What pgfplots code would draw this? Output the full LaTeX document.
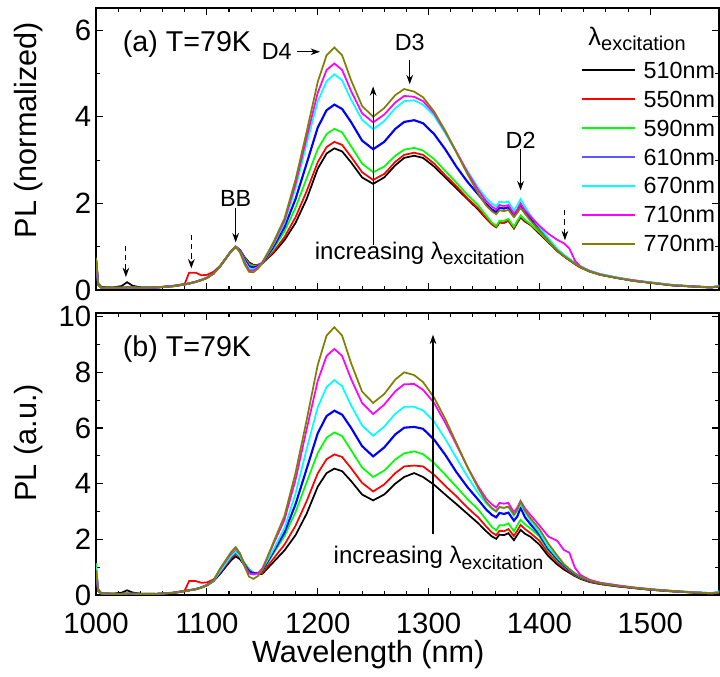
\documentclass[border=0pt]{standalone}
\usepackage{fontspec}
\setmainfont{Liberation Sans}
\usepackage{pgfplots}
\usepackage{pgfplotstable}
\pgfplotsset{compat=1.18}
\usetikzlibrary{arrows.meta}
\definecolor{olv}{RGB}{128,128,0}
\definecolor{grn}{RGB}{0,255,0}
\definecolor{cyn}{RGB}{0,255,255}
\definecolor{mag}{RGB}{255,0,255}
\definecolor{blu}{RGB}{0,0,255}
\definecolor{rd}{RGB}{255,0,0}

\pgfplotstableread{
x k r g b c m o
1000 0.72 0.70 0.74 0.70 0.72 0.70 0.74
1002 0.15 0.12 0.12 0.12 0.12 0.12 0.12
1005 0.07 0.05 0.05 0.05 0.05 0.05 0.05
1015 0.06 0.05 0.05 0.05 0.05 0.05 0.05
1023 0.09 0.05 0.05 0.05 0.05 0.05 0.05
1028 0.18 0.06 0.06 0.06 0.06 0.06 0.06
1033 0.10 0.06 0.06 0.06 0.06 0.06 0.06
1040 0.06 0.05 0.05 0.05 0.05 0.05 0.05
1055 0.06 0.06 0.06 0.06 0.06 0.06 0.06
1070 0.09 0.10 0.09 0.09 0.09 0.09 0.09
1080 0.13 0.14 0.13 0.13 0.13 0.13 0.13
1084 0.15 0.40 0.15 0.15 0.15 0.15 0.15
1090 0.19 0.40 0.19 0.19 0.19 0.19 0.19
1095 0.23 0.34 0.23 0.23 0.23 0.23 0.23
1100 0.28 0.35 0.28 0.28 0.28 0.28 0.28
1106 0.38 0.42 0.38 0.38 0.38 0.38 0.38
1112 0.55 0.56 0.55 0.55 0.55 0.55 0.55
1118 0.76 0.76 0.76 0.76 0.76 0.76 0.76
1122 0.90 0.90 0.90 0.90 0.90 0.90 0.90
1126 1.00 1.00 1.00 1.00 1.00 1.00 1.00
1130 0.92 0.92 0.91 0.90 0.89 0.88 0.86
1134 0.76 0.75 0.73 0.70 0.67 0.64 0.60
1138 0.64 0.62 0.59 0.55 0.50 0.46 0.42
1142 0.58 0.57 0.55 0.52 0.48 0.45 0.41
1146 0.58 0.58 0.56 0.55 0.53 0.52 0.49
1150 0.62 0.62 0.62 0.62 0.63 0.64 0.62
1160 0.85 0.88 0.95 1.00 1.05 1.08 1.10
1170 1.15 1.22 1.35 1.45 1.55 1.60 1.65
1180 1.55 1.68 1.90 2.10 2.35 2.45 2.55
1190 2.10 2.28 2.58 2.92 3.38 3.52 3.65
1200 2.80 2.95 3.25 3.75 4.35 4.55 4.80
1208 3.15 3.30 3.60 4.15 4.82 5.08 5.42
1215 3.27 3.42 3.72 4.28 4.98 5.23 5.60
1222 3.20 3.35 3.64 4.18 4.84 5.08 5.42
1230 2.95 3.08 3.32 3.88 4.40 4.60 4.85
1240 2.60 2.72 2.92 3.45 3.93 4.08 4.25
1250 2.45 2.54 2.72 3.25 3.71 3.87 4.00
1260 2.60 2.68 2.85 3.42 3.90 4.05 4.20
1270 2.88 2.96 3.10 3.72 4.20 4.33 4.50
1278 3.05 3.12 3.24 3.88 4.36 4.48 4.64
1287 3.10 3.17 3.28 3.92 4.38 4.46 4.58
1295 3.05 3.12 3.22 3.85 4.28 4.36 4.45
1305 2.85 2.92 3.02 3.60 4.02 4.08 4.12
1315 2.60 2.65 2.75 3.25 3.62 3.66 3.68
1325 2.35 2.40 2.48 2.85 3.18 3.20 3.18
1335 2.10 2.12 2.20 2.50 2.75 2.72 2.68
1345 1.85 1.88 1.95 2.20 2.35 2.30 2.22
1352 1.65 1.66 1.72 1.98 2.12 2.05 1.95
1357 1.52 1.52 1.56 1.86 2.00 1.93 1.82
1361 1.45 1.45 1.48 1.80 1.93 1.86 1.75
1364 1.56 1.56 1.60 1.90 2.04 1.96 1.84
1368 1.55 1.55 1.60 1.88 2.02 1.94 1.82
1372 1.60 1.60 1.64 1.91 2.04 1.96 1.85
1377 1.42 1.43 1.46 1.72 1.84 1.76 1.68
1380 1.55 1.56 1.60 1.82 1.95 1.86 1.78
1383 1.68 1.70 1.72 1.96 2.10 2.00 1.90
1387 1.58 1.60 1.62 1.80 1.92 1.84 1.76
1392 1.50 1.50 1.52 1.64 1.72 1.70 1.60
1400 1.30 1.32 1.34 1.40 1.45 1.48 1.38
1408 1.10 1.11 1.12 1.16 1.20 1.30 1.14
1416 0.90 0.90 0.91 0.93 0.95 1.16 0.92
1422 0.78 0.78 0.79 0.80 0.82 1.08 0.79
1427 0.69 0.69 0.70 0.71 0.72 0.96 0.70
1432 0.60 0.60 0.61 0.62 0.63 0.68 0.61
1437 0.52 0.52 0.53 0.54 0.55 0.54 0.53
1445 0.43 0.43 0.43 0.44 0.45 0.44 0.43
1455 0.35 0.35 0.35 0.36 0.37 0.36 0.35
1470 0.28 0.28 0.28 0.28 0.29 0.28 0.28
1485 0.21 0.21 0.21 0.22 0.22 0.22 0.21
1500 0.17 0.17 0.17 0.17 0.18 0.17 0.17
1520 0.11 0.11 0.11 0.11 0.12 0.11 0.11
1540 0.08 0.08 0.08 0.08 0.08 0.08 0.08
1555 0.06 0.06 0.06 0.06 0.06 0.06 0.06
1563 0.10 0.09 0.09 0.09 0.11 0.09 0.09
}\toptab

\pgfplotstableread{
x k r g b c m o
1000 0.54 0.80 1.14 0.90 1.00 0.80 0.90
1002 0.20 0.15 0.15 0.15 0.15 0.15 0.15
1005 0.06 0.05 0.05 0.05 0.05 0.05 0.05
1015 0.05 0.04 0.04 0.04 0.04 0.04 0.04
1023 0.08 0.04 0.04 0.04 0.04 0.04 0.04
1028 0.17 0.05 0.05 0.05 0.05 0.05 0.05
1033 0.09 0.05 0.05 0.05 0.05 0.05 0.05
1040 0.05 0.04 0.04 0.04 0.04 0.04 0.04
1055 0.04 0.04 0.04 0.04 0.04 0.04 0.04
1070 0.08 0.08 0.08 0.08 0.08 0.08 0.08
1080 0.14 0.16 0.14 0.14 0.14 0.14 0.14
1084 0.17 0.50 0.17 0.17 0.17 0.17 0.17
1090 0.21 0.50 0.21 0.21 0.21 0.21 0.21
1095 0.27 0.44 0.27 0.27 0.27 0.27 0.27
1100 0.35 0.45 0.35 0.35 0.35 0.35 0.35
1106 0.50 0.56 0.51 0.51 0.51 0.53 0.53
1112 0.76 0.81 0.86 0.85 0.85 0.93 0.95
1118 1.06 1.12 1.19 1.18 1.18 1.28 1.31
1122 1.25 1.33 1.41 1.40 1.40 1.52 1.55
1126 1.39 1.48 1.57 1.55 1.55 1.69 1.72
1130 1.28 1.36 1.43 1.40 1.38 1.49 1.48
1134 1.06 1.11 1.15 1.09 1.04 1.08 1.03
1138 0.89 0.92 0.93 0.85 0.78 0.78 0.66
1142 0.78 0.80 0.80 0.78 0.74 0.74 0.58
1146 0.75 0.76 0.78 0.78 0.76 0.78 0.68
1150 0.76 0.80 0.86 0.88 0.92 0.95 0.90
1160 1.18 1.30 1.49 1.55 1.63 1.83 1.89
1170 1.60 1.81 2.12 2.25 2.40 2.70 2.84
1180 2.15 2.49 2.98 3.26 3.64 4.14 4.39
1190 2.92 3.37 4.05 4.53 5.24 5.95 6.28
1200 3.89 4.37 5.10 5.81 6.74 7.69 8.26
1208 4.38 4.88 5.65 6.43 7.47 8.59 9.32
1215 4.54 5.05 5.84 6.62 7.72 8.84 9.62
1222 4.45 4.96 5.71 6.48 7.50 8.59 9.32
1230 4.10 4.56 5.21 6.01 6.82 7.77 8.34
1240 3.61 4.03 4.58 5.35 6.09 6.90 7.31
1250 3.40 3.72 4.24 4.98 5.72 6.50 6.90
1260 3.61 3.97 4.47 5.30 6.05 6.84 7.22
1270 4.00 4.38 4.87 5.77 6.51 7.32 7.74
1278 4.24 4.62 5.09 6.01 6.76 7.57 8.00
1287 4.38 4.65 5.16 6.04 6.76 7.58 7.90
1295 4.24 4.62 5.06 5.97 6.63 7.37 7.65
1305 3.96 4.32 4.74 5.58 6.23 6.90 7.09
1315 3.61 3.92 4.32 5.04 5.61 6.19 6.33
1325 3.27 3.55 3.89 4.42 4.93 5.41 5.47
1335 2.92 3.14 3.45 3.88 4.26 4.60 4.61
1345 2.57 2.78 3.06 3.41 3.64 3.89 3.82
1352 2.29 2.46 2.70 3.07 3.29 3.46 3.35
1357 2.11 2.25 2.45 2.88 3.10 3.26 3.13
1361 2.02 2.15 2.32 2.79 2.99 3.14 3.01
1364 2.17 2.31 2.51 2.95 3.16 3.31 3.16
1368 2.15 2.29 2.51 2.91 3.13 3.28 3.13
1372 2.22 2.37 2.57 2.96 3.16 3.31 3.18
1377 1.97 2.12 2.29 2.67 2.85 2.97 2.89
1380 2.15 2.31 2.51 2.82 3.02 3.14 3.06
1383 2.34 2.52 2.70 3.14 3.26 3.38 3.36
1387 2.20 2.37 2.54 2.79 2.98 3.11 3.03
1392 2.09 2.22 2.39 2.54 2.67 2.87 2.75
1400 1.81 1.95 2.10 2.17 2.25 2.50 2.37
1408 1.40 1.50 1.60 1.66 1.72 2.10 1.85
1416 1.10 1.18 1.25 1.30 1.35 1.95 1.42
1422 0.92 0.98 1.03 1.06 1.10 1.62 1.12
1427 0.80 0.84 0.88 0.90 0.93 1.52 0.94
1432 0.68 0.70 0.73 0.75 0.78 0.98 0.78
1437 0.58 0.60 0.62 0.64 0.66 0.72 0.66
1445 0.47 0.48 0.50 0.51 0.53 0.55 0.52
1455 0.39 0.40 0.41 0.42 0.44 0.44 0.42
1470 0.31 0.32 0.33 0.33 0.35 0.35 0.33
1485 0.25 0.25 0.26 0.26 0.27 0.27 0.26
1500 0.19 0.19 0.20 0.20 0.21 0.21 0.20
1520 0.13 0.13 0.14 0.14 0.14 0.14 0.14
1540 0.09 0.09 0.09 0.09 0.10 0.09 0.09
1555 0.06 0.06 0.06 0.06 0.07 0.06 0.06
1563 0.10 0.09 0.09 0.09 0.14 0.09 0.10
}\bottab

\pgfplotsset{
  myax/.style={
    scale only axis, width=467.25pt, height=211.5pt,
    xmin=1000, xmax=1562,
    xtick={1000,1100,1200,1300,1400,1500}, minor x tick num=4,
    minor y tick num=1,
    tick align=inside,
    major tick length=5pt, minor tick length=3pt,
    tick style={black, line width=0.8pt},
    axis line style={line width=0.9pt},
    tick label style={font=\fontsize{22}{22}\selectfont},
    xticklabel style={yshift=-10pt},
    label style={font=\fontsize{23}{23}\selectfont},
    /pgf/number format/assume math mode=true,
    /pgf/number format/1000 sep={},
    clip mode=individual,
    no markers,
    every axis plot/.append style={line width=1.3pt},
  },
}
\tikzset{
  ann/.style={font=\fontsize{17.5}{17.5}\selectfont},
  arr/.style={-{Stealth[length=7pt,width=5pt]}, line width=0.8pt},
  darr/.style={-{Stealth[length=7pt,width=5pt]}, line width=0.8pt, dash pattern=on 4pt off 3pt},
}

\begin{document}
\begin{tikzpicture}
\useasboundingbox (0,0) rectangle (540pt,-507pt);

\begin{axis}[myax, at={(72pt,-6pt)}, anchor=north west,
  ymin=0, ymax=6.51, ytick={0,2,4,6},
  xticklabels={},
  ylabel={PL (normalized)},
  ylabel style={at={(axis description cs:-0.1075,0.567)}, anchor=center},
  legend style={at={(axis description cs:0.994,0.81)}, anchor=north east,
    draw=none, fill=none, font=\fontsize{17.5}{17.5}\selectfont,
    row sep=9.5pt, inner sep=0pt, cells={anchor=west},
    nodes={inner sep=0pt, text depth=0pt},
    /tikz/every odd column/.append style={column sep=6pt}},
  legend cell align=left,
  legend image code/.code={\draw[#1, line width=1.2pt] (0pt,0pt) -- (40pt,0pt);},
]
\addplot[black] table[x=x,y=k]{\toptab}; \addlegendentry{510nm}
\addplot[rd] table[x=x,y=r]{\toptab}; \addlegendentry{550nm}
\addplot[grn] table[x=x,y=g]{\toptab}; \addlegendentry{590nm}
\addplot[blu, line width=1.6pt, legend image post style={line width=1.9pt, blu!65!white}] table[x=x,y=b]{\toptab}; \addlegendentry{610nm}
\addplot[cyn] table[x=x,y=c]{\toptab}; \addlegendentry{670nm}
\addplot[mag] table[x=x,y=m]{\toptab}; \addlegendentry{710nm}
\addplot[olv] table[x=x,y=o]{\toptab}; \addlegendentry{770nm}

\node[anchor=west, font=\fontsize{21.5}{21.5}\selectfont] at (axis cs:1020,5.68) {(a) T=79K};
\node[anchor=west] at (axis cs:1440,5.8) {\fontsize{19}{19}\selectfont λ\raisebox{-4pt}{\fontsize{15}{15}\selectfont excitation}};
\node[ann] at (axis cs:1163,5.5) {D4};
\draw[arr] (axis cs:1181,5.5) -- (axis cs:1202,5.5);
\node[ann] at (axis cs:1283,5.72) {D3};
\draw[arr] (axis cs:1283,5.3) -- (axis cs:1283,4.75);
\node[ann] at (axis cs:1126,2.12) {BB};
\draw[arr] (axis cs:1126,1.9) -- (axis cs:1126,1.1);
\node[ann] at (axis cs:1383,3.45) {D2};
\draw[arr] (axis cs:1383,3.25) -- (axis cs:1383,2.3);
\draw[darr] (axis cs:1027,1.02) -- (axis cs:1027,0.3);
\draw[darr] (axis cs:1086,1.28) -- (axis cs:1086,0.5);
\draw[darr] (axis cs:1423,1.85) -- (axis cs:1423,1.15);
\draw[arr] (axis cs:1250,1.04) -- (axis cs:1250,4.7);
\node at (axis cs:1292,0.85) {\fontsize{18}{18}\selectfont increasing λ\raisebox{-4pt}{\fontsize{14.5}{14.5}\selectfont excitation}};
\end{axis}

\begin{axis}[myax, at={(72pt,-234.75pt)}, anchor=north west,
  ymin=0, ymax=10.13, ytick={0,2,4,6,8,10},
  xlabel={Wavelength (nm)},
  xlabel style={at={(axis description cs:0.437,-0.2128)}, anchor=center},
  ylabel={PL (a.u.)},
  ylabel style={at={(axis description cs:-0.1075,0.54)}, anchor=center},
]
\addplot[black] table[x=x,y=k]{\bottab};
\addplot[rd] table[x=x,y=r]{\bottab};
\addplot[grn] table[x=x,y=g]{\bottab};
\addplot[blu, line width=1.6pt] table[x=x,y=b]{\bottab};
\addplot[cyn] table[x=x,y=c]{\bottab};
\addplot[mag] table[x=x,y=m]{\bottab};
\addplot[olv] table[x=x,y=o]{\bottab};

\node[anchor=west, font=\fontsize{21.5}{21.5}\selectfont] at (axis cs:1020,8.82) {(b) T=79K};
\draw[arr] (axis cs:1304,2.2) -- (axis cs:1304,9.35);
\node at (axis cs:1309,1.33) {\fontsize{18}{18}\selectfont increasing λ\raisebox{-4pt}{\fontsize{14.5}{14.5}\selectfont excitation}};
\end{axis}
\end{tikzpicture}
\end{document}
